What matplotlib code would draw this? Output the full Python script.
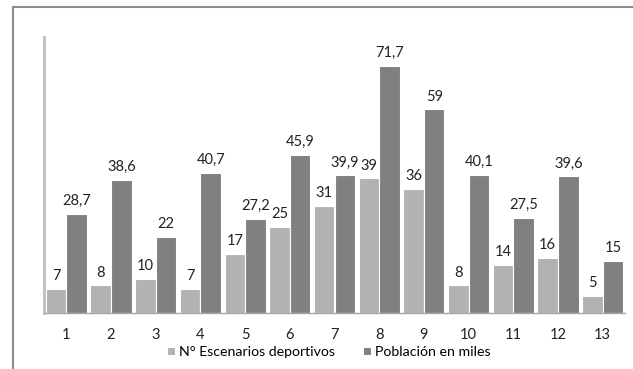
import numpy as np
import matplotlib
matplotlib.use("Agg")
import matplotlib.pyplot as plt
from matplotlib.patches import Rectangle

plt.rcParams['font.family'] = ['Lato', 'DejaVu Sans']

categorias = ['1', '2', '3', '4', '5', '6', '7', '8', '9', '10', '11', '12', '13']
escenarios = [7, 8, 10, 7, 17, 25, 31, 39, 36, 8, 14, 16, 5]
poblacion = [28.7, 38.6, 22, 40.7, 27.2, 45.9, 39.9, 71.7, 59, 40.1, 27.5, 39.6, 15]
series_names = ['N° Escenarios deportivos', 'Población en miles']


def fmt(v):
    # coma decimal, como en el original
    s = ('%g' % v)
    return s.replace('.', ',')


fig = plt.figure(figsize=(6.33, 3.69), dpi=100)
ax = fig.add_axes([44 / 633, 56 / 369, 581 / 633, 276 / 369])

x = np.arange(len(categorias))
w = 0.46
c1 = '#b2b2b2'
c2 = '#808080'
b1 = ax.bar(x - w / 2, escenarios, w, color=c1, edgecolor='white', linewidth=0.8, label=series_names[0])
b2 = ax.bar(x + w / 2, poblacion, w, color=c2, edgecolor='white', linewidth=0.8, label=series_names[1])

for xi, v in zip(x, escenarios):
    ax.text(xi - w / 2, v + 1.7, fmt(v), ha='center', va='bottom', fontsize=10.5, color='#222222')
for xi, v in zip(x, poblacion):
    ax.text(xi + w / 2, v + 1.7, fmt(v), ha='center', va='bottom', fontsize=10.5, color='#222222')

ax.set_xlim(-0.5, len(categorias) - 0.5)
ax.set_ylim(0, 80)
ax.set_xticks(x)
ax.set_xticklabels(categorias, fontsize=10.5, color='#222222')
ax.tick_params(axis='x', length=0, pad=11)
ax.set_yticks([])
for s in ['top', 'right']:
    ax.spines[s].set_visible(False)
ax.spines['left'].set_color('#c0c0c0')
ax.spines['left'].set_linewidth(2)
ax.spines['bottom'].set_color('#a6a6a6')
ax.spines['bottom'].set_linewidth(1)

leg = fig.legend(handles=[b1, b2], loc='center', bbox_to_anchor=(329 / 633, 1 - 352 / 369), ncol=2,
                 frameon=False, fontsize=10.2, handlelength=0.55, handleheight=0.55,
                 handletextpad=0.3, columnspacing=2.0, borderpad=0, borderaxespad=0)

# borde del grafico (recortado por la imagen)
fig.patches.append(Rectangle((13 / 633, -0.5), 1.2, 0.5 + 1 - 7 / 369, transform=fig.transFigure,
                             fill=False, edgecolor='#8c8c8c', linewidth=1.5))

fig.savefig('out.png', dpi=100)
